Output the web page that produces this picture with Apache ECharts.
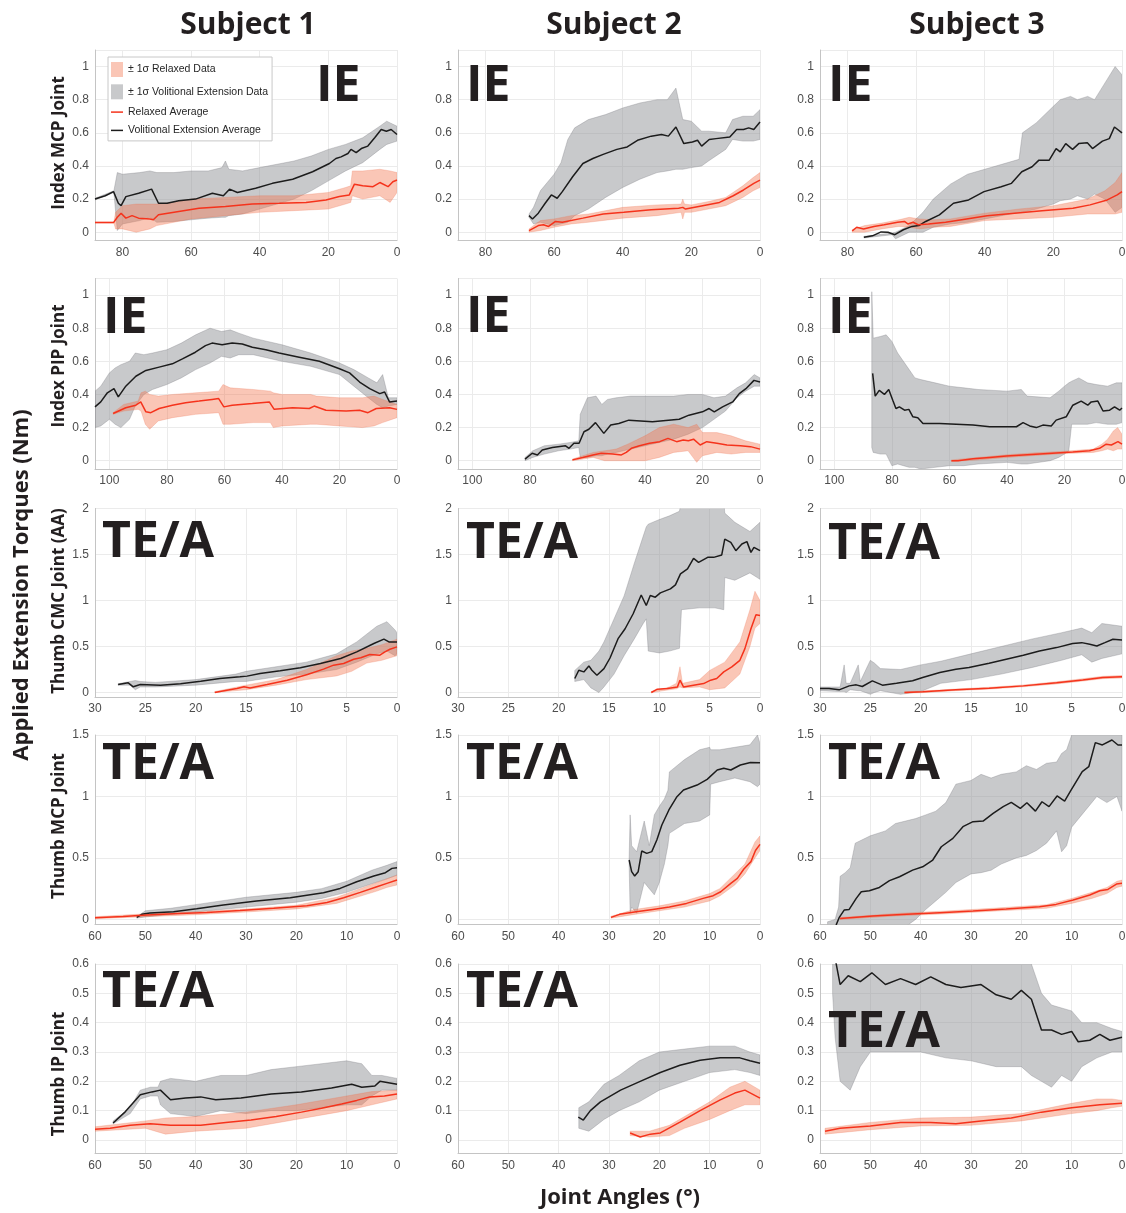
<!DOCTYPE html>
<html>
<head>
<meta charset="utf-8">
<script src="https://cdn.jsdelivr.net/npm/echarts@6/dist/echarts.min.js"></script>
<style>
html,body{margin:0;padding:0;background:#fff}
#chart{width:1126px;height:1213px}
</style>
</head>
<body>
<div id="chart"></div>
<script>
// ---------- Subject 1 · Index MCP ----------
const s1_imcp_volX = [88, 85, 82.6, 81.2, 80.4, 79, 75.3, 71.5, 69.5, 67, 63.6, 58.7, 53.8, 50.6, 48.8, 46.5, 41.2, 36.3, 30.4, 24.6, 19.7, 17.8, 16.3, 14.3, 13.4, 11.9, 10.4, 8.5, 6.5, 4.6, 3.1, 1.7, 0];
const s1_imcp_volY = [0.20, 0.22, 0.245, 0.175, 0.16, 0.215, 0.235, 0.26, 0.175, 0.175, 0.19, 0.20, 0.235, 0.22, 0.26, 0.24, 0.265, 0.295, 0.32, 0.365, 0.415, 0.445, 0.455, 0.475, 0.50, 0.48, 0.505, 0.52, 0.57, 0.62, 0.61, 0.62, 0.59];
const s1_imcp_volBandX = [88, 82.5, 81.5, 80, 75, 72, 70, 65, 60, 55, 51, 50, 49, 45, 40, 35, 30, 25, 20, 15, 10, 5, 3, 0];
const s1_imcp_volLo = [0.195, 0.24, 0.01, 0.05, 0.07, 0.09, 0.06, 0.065, 0.075, 0.085, 0.09, 0.09, 0.10, 0.11, 0.14, 0.17, 0.20, 0.25, 0.31, 0.37, 0.42, 0.50, 0.53, 0.55];
const s1_imcp_volHi = [0.205, 0.25, 0.36, 0.35, 0.36, 0.37, 0.36, 0.36, 0.37, 0.37, 0.39, 0.43, 0.38, 0.37, 0.39, 0.41, 0.43, 0.46, 0.50, 0.53, 0.57, 0.64, 0.67, 0.64];
const s1_imcp_relX = [88, 82.6, 81.5, 80.4, 79, 77.2, 75.3, 72, 71, 69.5, 63.6, 57.7, 50, 42.2, 34.3, 26.5, 20.7, 16.8, 13.9, 12.4, 10, 7, 5, 2.6, 1.2, 0];
const s1_imcp_relY = [0.058, 0.058, 0.09, 0.115, 0.085, 0.1, 0.085, 0.08, 0.075, 0.105, 0.125, 0.145, 0.155, 0.17, 0.175, 0.18, 0.195, 0.215, 0.225, 0.29, 0.28, 0.275, 0.30, 0.275, 0.305, 0.315];
const s1_imcp_relBandX = [88, 82.5, 82, 80, 76, 72, 70, 65, 60, 50, 40, 30, 20, 15, 13.5, 13, 10, 5, 2, 0];
const s1_imcp_relLo = [0.055, 0.055, 0.02, 0.02, 0.0, 0.02, 0.04, 0.06, 0.08, 0.10, 0.12, 0.13, 0.14, 0.17, 0.18, 0.22, 0.20, 0.22, 0.18, 0.24];
const s1_imcp_relHi = [0.062, 0.062, 0.12, 0.16, 0.17, 0.17, 0.17, 0.18, 0.20, 0.21, 0.22, 0.22, 0.24, 0.27, 0.28, 0.37, 0.37, 0.38, 0.37, 0.36];

// ---------- Subject 2 · Index MCP ----------
const s2_imcp_volX = [67.3, 66.3, 64.6, 62.6, 60.8, 59.1, 57.6, 54.6, 51.6, 48.7, 45.7, 41.7, 38.7, 35.7, 31.7, 28.7, 26.7, 24.5, 22.2, 19.7, 18.2, 17, 14.8, 12.8, 8.8, 6.8, 4.8, 3.3, 1.8, 0];
const s2_imcp_volY = [0.10, 0.08, 0.115, 0.175, 0.225, 0.205, 0.245, 0.335, 0.415, 0.445, 0.47, 0.50, 0.515, 0.555, 0.58, 0.59, 0.58, 0.635, 0.535, 0.545, 0.555, 0.52, 0.56, 0.565, 0.575, 0.62, 0.62, 0.63, 0.62, 0.665];
const s2_imcp_volBandX = [67.3, 66, 64, 62, 60, 58, 56, 54, 50, 45, 40, 35, 30, 27, 24.5, 22.5, 20, 17, 15, 10, 8, 5, 2, 0];
const s2_imcp_volLo = [0.09, 0.05, 0.06, 0.05, 0.04, 0.05, 0.06, 0.10, 0.14, 0.21, 0.27, 0.32, 0.36, 0.37, 0.38, 0.38, 0.39, 0.40, 0.43, 0.50, 0.56, 0.55, 0.55, 0.56];
const s2_imcp_volHi = [0.11, 0.15, 0.25, 0.30, 0.35, 0.42, 0.56, 0.63, 0.68, 0.71, 0.75, 0.78, 0.80, 0.80, 0.87, 0.68, 0.67, 0.61, 0.61, 0.60, 0.68, 0.70, 0.70, 0.74];
const s2_imcp_relX = [67.3, 64.6, 63.1, 61.6, 59.6, 57.6, 51.6, 45.7, 39.7, 31.7, 23.7, 22.5, 21.7, 16.7, 11.8, 7.8, 4.8, 1.8, 0];
const s2_imcp_relY = [0.01, 0.04, 0.045, 0.035, 0.065, 0.06, 0.085, 0.11, 0.12, 0.135, 0.145, 0.15, 0.14, 0.16, 0.18, 0.22, 0.255, 0.295, 0.315];
const s2_imcp_relBandX = [67.3, 64, 60, 55, 50, 40, 30, 23, 22.5, 22, 20, 15, 10, 5, 2, 0];
const s2_imcp_relLo = [0.0, 0.01, 0.03, 0.05, 0.06, 0.085, 0.10, 0.12, 0.08, 0.12, 0.12, 0.14, 0.16, 0.21, 0.25, 0.27];
const s2_imcp_relHi = [0.02, 0.07, 0.08, 0.10, 0.11, 0.15, 0.165, 0.17, 0.20, 0.17, 0.165, 0.185, 0.21, 0.28, 0.33, 0.36];

// ---------- Subject 3 · Index MCP ----------
const s3_imcp_volX = [75.2, 72.7, 70.2, 68.2, 66.2, 63.7, 61.2, 59.2, 57.2, 53.2, 49.1, 44.7, 40.2, 35.2, 32.2, 29.2, 26.2, 24.2, 21.2, 19.2, 18, 16.4, 14.4, 12.6, 10.1, 8.6, 5.7, 3.7, 2.2, 0];
const s3_imcp_volY = [-0.03, -0.022, 0.002, 0.0, -0.015, 0.015, 0.035, 0.04, 0.065, 0.105, 0.175, 0.195, 0.245, 0.275, 0.295, 0.365, 0.395, 0.435, 0.435, 0.505, 0.485, 0.535, 0.50, 0.535, 0.54, 0.505, 0.55, 0.565, 0.635, 0.60];
const s3_imcp_volBandX = [75.2, 67, 66, 62, 58, 55, 50, 45, 40, 35, 30, 29, 25, 20, 18, 15, 13, 10, 8, 5, 2, 0];
const s3_imcp_volLo = [-0.035, -0.015, -0.04, 0.0, 0.0, 0.03, 0.05, 0.06, 0.08, 0.10, 0.12, 0.12, 0.14, 0.17, 0.19, 0.20, 0.22, 0.20, 0.23, 0.20, 0.12, 0.15];
const s3_imcp_volHi = [-0.025, -0.005, 0.0, 0.04, 0.12, 0.20, 0.29, 0.35, 0.38, 0.41, 0.44, 0.60, 0.66, 0.76, 0.80, 0.82, 0.80, 0.82, 0.80, 0.90, 1.0, 0.95];
const s3_imcp_relX = [78.6, 77.3, 75.3, 72.3, 69.3, 65.4, 63.4, 62.4, 60.9, 59.4, 56.4, 51.4, 45.3, 39.3, 31.3, 23.3, 14.3, 9.3, 4.3, 1.4, 0];
const s3_imcp_relY = [0.008, 0.03, 0.02, 0.035, 0.045, 0.06, 0.065, 0.05, 0.06, 0.045, 0.05, 0.06, 0.08, 0.10, 0.115, 0.13, 0.145, 0.165, 0.195, 0.225, 0.245];
const s3_imcp_relBandX = [78.6, 75, 70, 65, 62, 59, 55, 50, 40, 30, 20, 10, 5, 2, 0];
const s3_imcp_relLo = [0.0, 0.0, 0.02, 0.035, 0.03, 0.02, 0.03, 0.035, 0.07, 0.08, 0.09, 0.11, 0.11, 0.11, 0.12];
const s3_imcp_relHi = [0.015, 0.04, 0.055, 0.075, 0.09, 0.08, 0.075, 0.08, 0.115, 0.14, 0.16, 0.2, 0.25, 0.3, 0.36];

// ---------- Subject 1 · Index PIP ----------
const s1_ipip_volX = [105, 103, 100.7, 98.4, 96.9, 94.3, 90.8, 87.3, 82.7, 78.1, 74.6, 70.1, 66.6, 64.3, 60.8, 57.3, 53.8, 50.3, 45.6, 41, 34, 27, 20, 16.5, 13, 9.5, 6, 4.3, 2.6, 0];
const s1_ipip_volY = [0.325, 0.355, 0.41, 0.435, 0.385, 0.45, 0.51, 0.545, 0.565, 0.585, 0.615, 0.655, 0.695, 0.71, 0.70, 0.71, 0.705, 0.685, 0.67, 0.65, 0.625, 0.60, 0.555, 0.53, 0.475, 0.435, 0.405, 0.415, 0.355, 0.36];
const s1_ipip_volBandX = [105, 103, 100, 98, 96, 93, 91, 88, 85, 80, 75, 70, 65, 61, 58, 55, 50, 45, 40, 30, 20, 15, 10, 7, 5, 3, 0];
const s1_ipip_volLo = [0.20, 0.21, 0.25, 0.22, 0.20, 0.25, 0.33, 0.40, 0.43, 0.46, 0.50, 0.55, 0.59, 0.63, 0.62, 0.64, 0.64, 0.62, 0.60, 0.57, 0.52, 0.45, 0.38, 0.34, 0.32, 0.33, 0.34];
const s1_ipip_volHi = [0.42, 0.45, 0.53, 0.56, 0.58, 0.60, 0.65, 0.64, 0.65, 0.67, 0.71, 0.76, 0.80, 0.78, 0.79, 0.77, 0.74, 0.72, 0.70, 0.65, 0.59, 0.55, 0.50, 0.47, 0.52, 0.38, 0.38];
const s1_ipip_relX = [98.7, 94.3, 90.8, 89.1, 87.3, 85.6, 82.7, 78.1, 73.5, 68.8, 64.3, 62, 60.2, 57.3, 50.3, 44.4, 42.7, 36.3, 30.5, 28.8, 24.7, 17.7, 13, 10.1, 7.2, 2.6, 0];
const s1_ipip_relY = [0.285, 0.32, 0.335, 0.355, 0.295, 0.29, 0.315, 0.335, 0.35, 0.36, 0.37, 0.375, 0.325, 0.335, 0.345, 0.355, 0.31, 0.32, 0.315, 0.33, 0.305, 0.30, 0.305, 0.29, 0.315, 0.32, 0.31];
const s1_ipip_relBandX = [98.7, 95, 90, 89, 87.5, 86, 83, 78, 70, 62, 60.5, 58, 50, 44, 43, 40, 30, 28, 20, 12, 8, 5, 0];
const s1_ipip_relLo = [0.28, 0.30, 0.31, 0.30, 0.22, 0.19, 0.24, 0.26, 0.28, 0.29, 0.22, 0.22, 0.23, 0.23, 0.20, 0.21, 0.22, 0.22, 0.21, 0.20, 0.21, 0.23, 0.26];
const s1_ipip_relHi = [0.29, 0.34, 0.36, 0.41, 0.42, 0.40, 0.39, 0.40, 0.41, 0.42, 0.46, 0.44, 0.43, 0.42, 0.41, 0.40, 0.40, 0.39, 0.38, 0.38, 0.39, 0.37, 0.34];

// ---------- Subject 2 · Index PIP ----------
const s2_ipip_volX = [81.7, 79.2, 77.4, 75.7, 72.2, 67.6, 66.4, 64.7, 62.9, 61.2, 59.5, 57.2, 54.3, 51.9, 49.1, 45.6, 37.4, 28.1, 24.7, 20, 17.7, 15.9, 13, 9.5, 7.2, 4.9, 2.1, 0];
const s2_ipip_volY = [0.01, 0.045, 0.035, 0.065, 0.08, 0.09, 0.075, 0.105, 0.105, 0.175, 0.19, 0.23, 0.165, 0.215, 0.225, 0.245, 0.235, 0.25, 0.275, 0.295, 0.315, 0.295, 0.325, 0.355, 0.405, 0.435, 0.485, 0.475];
const s2_ipip_volBandX = [81.7, 79, 75, 70, 66, 63, 62.5, 60, 57, 55, 53, 50, 45, 40, 30, 25, 20, 16, 12, 8, 5, 2, 0];
const s2_ipip_volLo = [0.0, 0.02, 0.04, 0.06, 0.07, 0.08, 0.02, 0.02, 0.03, 0.03, 0.04, 0.05, 0.07, 0.09, 0.13, 0.16, 0.20, 0.25, 0.30, 0.38, 0.42, 0.45, 0.45];
const s2_ipip_volHi = [0.02, 0.06, 0.09, 0.10, 0.11, 0.12, 0.28, 0.38, 0.39, 0.34, 0.37, 0.38, 0.39, 0.39, 0.39, 0.40, 0.40, 0.38, 0.39, 0.44, 0.47, 0.52, 0.50];
const s2_ipip_relX = [65.2, 61.6, 58.1, 55.2, 51.2, 48.2, 46.5, 44.7, 41.9, 38.4, 34.9, 32, 29, 26.7, 24.9, 23.1, 20.8, 18.5, 15, 11.5, 6.8, 3.3, 0];
const s2_ipip_relY = [0.005, 0.02, 0.035, 0.045, 0.04, 0.035, 0.05, 0.075, 0.09, 0.105, 0.115, 0.135, 0.115, 0.125, 0.12, 0.13, 0.095, 0.115, 0.105, 0.095, 0.09, 0.085, 0.07];
const s2_ipip_relBandX = [65.2, 58, 54, 50, 46, 40, 35, 30, 25, 22, 20, 15, 10, 5, 0];
const s2_ipip_relLo = [0.0, 0.02, 0.0, 0.0, 0.0, 0.0, 0.02, 0.05, 0.06, -0.01, 0.03, 0.05, 0.04, 0.05, 0.05];
const s2_ipip_relHi = [0.01, 0.05, 0.06, 0.07, 0.10, 0.15, 0.20, 0.22, 0.20, 0.22, 0.17, 0.17, 0.15, 0.12, 0.10];

// ---------- Subject 3 · Index PIP ----------
const s3_ipip_volX = [86.7, 85.8, 84.4, 82.6, 81.1, 79.7, 78.6, 77.4, 75.6, 74.1, 72.7, 71, 69.2, 63.4, 57.6, 51.8, 46, 36.7, 34.4, 32.1, 29.8, 27.5, 24.6, 22.9, 19.4, 17.1, 14.2, 11.9, 10.7, 8.4, 6.6, 4.3, 2.6, 0.8, 0];
const s3_ipip_volY = [0.527, 0.39, 0.425, 0.40, 0.43, 0.365, 0.315, 0.325, 0.305, 0.31, 0.265, 0.26, 0.225, 0.225, 0.22, 0.215, 0.205, 0.205, 0.23, 0.21, 0.20, 0.215, 0.21, 0.245, 0.265, 0.335, 0.36, 0.335, 0.355, 0.36, 0.30, 0.305, 0.325, 0.305, 0.318];
const s3_ipip_volBandX = [87, 86.5, 84, 82, 80, 78, 76, 74, 72, 70, 65, 60, 55, 50, 40, 35, 33, 25, 22, 20, 18.5, 17.5, 15, 12, 9, 5, 2, 0];
const s3_ipip_volLo = [0.08, 0.05, 0.04, 0.04, -0.03, -0.02, -0.03, -0.04, -0.04, -0.05, -0.04, -0.03, -0.03, -0.02, -0.01, -0.02, -0.02, 0.0, 0.02, 0.04, 0.06, 0.22, 0.22, 0.22, 0.23, 0.22, 0.22, 0.23];
const s3_ipip_volHi = [1.02, 0.74, 0.75, 0.76, 0.72, 0.65, 0.60, 0.55, 0.50, 0.49, 0.47, 0.45, 0.44, 0.43, 0.42, 0.43, 0.39, 0.38, 0.42, 0.45, 0.47, 0.48, 0.50, 0.47, 0.46, 0.45, 0.47, 0.47];
const s3_ipip_relX = [59.3, 57, 51.8, 46, 40.2, 34.4, 28.6, 22.9, 17.1, 11.3, 7.8, 5.5, 3.7, 1.4, 0];
const s3_ipip_relY = [0.0, 0.0, 0.012, 0.02, 0.028, 0.034, 0.04, 0.046, 0.052, 0.06, 0.075, 0.10, 0.095, 0.115, 0.10];
const s3_ipip_relBandX = [59.3, 50, 40, 30, 20, 10, 7, 5, 3, 1.5, 0];
const s3_ipip_relLo = [-0.005, 0.005, 0.02, 0.032, 0.043, 0.05, 0.06, 0.07, 0.06, 0.07, 0.07];
const s3_ipip_relHi = [0.005, 0.02, 0.036, 0.048, 0.057, 0.07, 0.1, 0.13, 0.18, 0.2, 0.16];

// ---------- Subject 1 · Thumb CMC ----------
const s1_tcmc_volX = [27.7, 26.7, 26.2, 25.5, 23.5, 21.5, 19.5, 17.6, 15.6, 14.9, 13.6, 11.6, 9.6, 7.6, 5.6, 4, 2.3, 1.3, 0.8, 0];
const s1_tcmc_volY = [0.087, 0.105, 0.062, 0.087, 0.08, 0.094, 0.123, 0.152, 0.17, 0.178, 0.207, 0.236, 0.268, 0.315, 0.37, 0.442, 0.533, 0.58, 0.55, 0.55];
const s1_tcmc_volBandX = [27.7, 26.5, 26, 25.5, 24, 20, 16, 15, 12, 9, 6, 4, 2, 1, 0.2, 0];
const s1_tcmc_volLo = [0.08, 0.08, 0.03, 0.06, 0.06, 0.08, 0.12, 0.12, 0.17, 0.2, 0.25, 0.33, 0.42, 0.45, 0.4, 0.42];
const s1_tcmc_volHi = [0.095, 0.12, 0.13, 0.12, 0.11, 0.14, 0.2, 0.23, 0.28, 0.33, 0.42, 0.55, 0.72, 0.77, 0.68, 0.65];
const s1_tcmc_relX = [18.1, 16.9, 15.9, 15.2, 14.6, 12.9, 10.9, 8.9, 7.3, 6.3, 5.3, 4.3, 3.6, 2.7, 1.7, 1.2, 0.7, 0];
const s1_tcmc_relY = [0.0, 0.025, 0.043, 0.062, 0.05, 0.087, 0.134, 0.196, 0.254, 0.297, 0.315, 0.362, 0.377, 0.413, 0.406, 0.442, 0.47, 0.496];
const s1_tcmc_relBandX = [18.1, 15, 12, 9, 6, 4.5, 3, 1.5, 0];
const s1_tcmc_relLo = [0.0, 0.03, 0.08, 0.14, 0.18, 0.23, 0.32, 0.35, 0.40];
const s1_tcmc_relHi = [0.01, 0.08, 0.14, 0.25, 0.40, 0.45, 0.48, 0.52, 0.58];

// ---------- Subject 2 · Thumb CMC ----------
const s2_tcmc_volX = [18.4, 18.0, 17.5, 17, 16.7, 16.2, 15.5, 14.9, 14.1, 13.4, 12.6, 11.8, 11.3, 10.9, 10.4, 9.9, 8.9, 8.4, 7.9, 7.2, 6.6, 6.1, 5.2, 4.6, 3.8, 3.5, 2.9, 2.4, 1.8, 1.3, 0.9, 0.6, 0];
const s2_tcmc_volY = [0.152, 0.242, 0.224, 0.289, 0.242, 0.188, 0.26, 0.375, 0.585, 0.693, 0.856, 1.06, 0.946, 1.054, 1.036, 1.083, 1.126, 1.17, 1.289, 1.343, 1.458, 1.415, 1.469, 1.469, 1.495, 1.668, 1.632, 1.542, 1.614, 1.64, 1.523, 1.578, 1.542];
const s2_tcmc_volBandX = [18.4, 17.5, 16.8, 16, 15.5, 14.5, 13.5, 12.5, 11.6, 11.3, 11.1, 10, 9, 8, 7.8, 6, 4.5, 3.6, 3.5, 2.5, 1, 0];
const s2_tcmc_volLo = [0.12, 0.14, 0.05, 0.0, 0.06, 0.2, 0.4, 0.58, 0.75, 0.8, 0.45, 0.43, 0.45, 0.48, 0.9, 0.92, 0.92, 0.9, 1.25, 1.22, 1.3, 1.23];
const s2_tcmc_volHi = [0.24, 0.33, 0.35, 0.45, 0.55, 0.80, 1.05, 1.40, 1.70, 1.80, 1.83, 1.88, 1.92, 1.97, 2.1, 2.1, 2.1, 2.1, 1.95, 1.85, 1.75, 1.85];
const s2_tcmc_relX = [10.8, 10.2, 9.2, 8.2, 7.95, 7.6, 6.6, 5.6, 4.9, 4.3, 3.6, 2.8, 2, 1.5, 0.9, 0.4, 0];
const s2_tcmc_relY = [0.0, 0.036, 0.043, 0.061, 0.134, 0.061, 0.08, 0.097, 0.134, 0.152, 0.224, 0.278, 0.35, 0.477, 0.693, 0.845, 0.838];
const s2_tcmc_relBandX = [10.8, 9, 8.3, 7.95, 7.7, 6, 5, 3.5, 2, 1, 0.5, 0];
const s2_tcmc_relLo = [0.0, 0.03, 0.04, 0.06, 0.05, 0.06, 0.03, 0.05, 0.2, 0.5, 0.7, 0.75];
const s2_tcmc_relHi = [0.01, 0.06, 0.10, 0.28, 0.10, 0.14, 0.24, 0.33, 0.55, 0.90, 1.10, 1.0];

// ---------- Subject 3 · Thumb CMC ----------
const s3_tcmc_volX = [30, 29.1, 28.1, 27.1, 26.4, 25.8, 24.8, 23.8, 22.4, 20.8, 19.8, 18.1, 16.5, 15.2, 13.2, 11.5, 9.8, 8.2, 6.5, 4.9, 4, 3.2, 2.5, 1.7, 0.9, 0];
const s3_tcmc_volY = [0.043, 0.043, 0.029, 0.072, 0.083, 0.065, 0.127, 0.08, 0.101, 0.127, 0.163, 0.217, 0.253, 0.271, 0.318, 0.362, 0.405, 0.452, 0.488, 0.532, 0.542, 0.524, 0.506, 0.542, 0.579, 0.571];
const s3_tcmc_volBandX = [30, 28, 27.6, 27.4, 27, 26.2, 26, 25, 24.6, 24, 22, 20, 18, 15, 12, 9, 6, 4, 3, 2, 0];
const s3_tcmc_volLo = [0.02, 0.01, 0.01, 0.0, 0.03, 0.02, 0.02, -0.02, 0.0, 0.02, -0.02, 0.01, 0.1, 0.14, 0.2, 0.27, 0.35, 0.41, 0.33, 0.37, 0.42];
const s3_tcmc_volHi = [0.06, 0.06, 0.3, 0.1, 0.1, 0.3, 0.12, 0.35, 0.32, 0.26, 0.25, 0.3, 0.34, 0.42, 0.5, 0.58, 0.65, 0.7, 0.65, 0.75, 0.72];
const s3_tcmc_relX = [21.6, 19.8, 16.5, 13.2, 9.8, 6.5, 3.9, 1.9, 0];
const s3_tcmc_relY = [0.0, 0.007, 0.029, 0.047, 0.072, 0.105, 0.137, 0.163, 0.17];
const s3_tcmc_relBandX = [21.6, 19.8, 16.5, 13.2, 9.8, 6.5, 3.9, 1.9, 0];
const s3_tcmc_relLo = [-0.008, -0.002, 0.02, 0.037, 0.062, 0.093, 0.124, 0.15, 0.158];
const s3_tcmc_relHi = [0.008, 0.016, 0.038, 0.057, 0.082, 0.117, 0.15, 0.176, 0.184];

// ---------- Subject 1 · Thumb MCP ----------
const s1_tmcp_volX = [51.7, 50.7, 49.1, 44.4, 39.8, 34.5, 27.9, 21.2, 14.6, 11.3, 8, 4.6, 2.3, 1, 0];
const s1_tmcp_volY = [0.016, 0.041, 0.052, 0.062, 0.087, 0.117, 0.149, 0.176, 0.217, 0.252, 0.306, 0.353, 0.38, 0.415, 0.42];
const s1_tmcp_volBandX = [51.7, 50, 45, 40, 30, 20, 15, 10, 5, 2, 0];
const s1_tmcp_volLo = [0.01, 0.02, 0.04, 0.06, 0.10, 0.14, 0.17, 0.22, 0.29, 0.33, 0.36];
const s1_tmcp_volHi = [0.02, 0.07, 0.09, 0.12, 0.18, 0.22, 0.25, 0.31, 0.40, 0.44, 0.47];
const s1_tmcp_relX = [60, 54.4, 49.7, 44.4, 37.8, 31.2, 24.5, 17.9, 13.9, 10.6, 7.3, 4, 2, 0];
const s1_tmcp_relY = [0.014, 0.024, 0.035, 0.046, 0.057, 0.073, 0.09, 0.111, 0.138, 0.176, 0.22, 0.266, 0.293, 0.32];
const s1_tmcp_relBandX = [60, 50, 40, 30, 20, 12, 8, 4, 2, 0];
const s1_tmcp_relLo = [0.005, 0.022, 0.038, 0.06, 0.085, 0.13, 0.18, 0.23, 0.26, 0.28];
const s1_tmcp_relHi = [0.022, 0.045, 0.062, 0.085, 0.115, 0.18, 0.24, 0.3, 0.33, 0.36];

// ---------- Subject 2 · Thumb MCP ----------
const s2_tmcp_volX = [26, 25.5, 24.9, 24.2, 23.5, 22.5, 21.5, 20.5, 19.5, 18.1, 16.5, 15.2, 12.5, 10.5, 8.5, 7.2, 5.8, 3.9, 1.9, 0];
const s2_tmcp_volY = [0.483, 0.388, 0.353, 0.388, 0.556, 0.537, 0.551, 0.646, 0.768, 0.89, 0.998, 1.052, 1.093, 1.139, 1.215, 1.229, 1.215, 1.256, 1.277, 1.275];
const s2_tmcp_volBandX = [26, 25.8, 25.5, 24.5, 23, 22, 21, 20, 19, 18.3, 18, 15, 12, 10, 9.8, 8, 5, 2, 0.5, 0];
const s2_tmcp_volLo = [0.45, 0.05, 0.1, 0.05, 0.3, 0.25, 0.2, 0.3, 0.45, 0.6, 0.7, 0.78, 0.8, 0.85, 1.1, 1.12, 1.15, 1.12, 1.08, 1.1];
const s2_tmcp_volHi = [0.5, 0.85, 0.6, 0.55, 0.8, 0.6, 0.85, 0.92, 0.98, 1.05, 1.2, 1.3, 1.38, 1.4, 1.38, 1.38, 1.4, 1.42, 1.5, 1.43];
const s2_tmcp_relX = [29.6, 27.9, 24.6, 21.3, 18, 14.6, 11.3, 9.3, 7.8, 5.8, 4.5, 3.2, 1.8, 0.9, 0];
const s2_tmcp_relY = [0.016, 0.041, 0.062, 0.081, 0.1, 0.13, 0.171, 0.193, 0.225, 0.293, 0.334, 0.41, 0.47, 0.56, 0.61];
const s2_tmcp_relBandX = [29.6, 25, 20, 15, 10, 8, 5, 3, 1, 0];
const s2_tmcp_relLo = [0.01, 0.04, 0.07, 0.1, 0.15, 0.19, 0.28, 0.37, 0.5, 0.56];
const s2_tmcp_relHi = [0.025, 0.08, 0.11, 0.15, 0.21, 0.25, 0.37, 0.45, 0.63, 0.68];

// ---------- Subject 3 · Thumb MCP ----------
const s3_tmcp_volX = [56.8, 56.2, 55.2, 54.2, 52.8, 51.8, 50.2, 48.2, 46.2, 44.2, 41.6, 39.6, 37.6, 35.9, 33.6, 31.6, 29.6, 27.6, 25.6, 23.6, 22, 20.2, 18.9, 17.2, 15.9, 14.5, 12.9, 11.4, 10.3, 7.9, 6.6, 5.3, 3.9, 2, 0.8, 0];
const s3_tmcp_volY = [-0.046, 0.014, 0.076, 0.081, 0.171, 0.225, 0.233, 0.26, 0.315, 0.347, 0.401, 0.428, 0.483, 0.591, 0.659, 0.754, 0.795, 0.80, 0.862, 0.917, 0.952, 0.903, 0.949, 0.881, 0.957, 0.917, 1.004, 0.963, 1.039, 1.202, 1.242, 1.438, 1.419, 1.459, 1.419, 1.419];
const s3_tmcp_volBandX = [58.5, 57, 56.3, 56, 55, 54, 53, 51, 50, 47, 45, 43, 41, 39, 37, 35, 33, 30, 28, 26, 24, 21, 19, 17, 15, 13, 12, 11, 10, 8, 5, 3, 1, 0];
const s3_tmcp_volLo = [-0.1, -0.1, -0.1, -0.1, -0.1, -0.1, -0.1, -0.1, -0.1, -0.1, -0.1, -0.06, 0.0, 0.08, 0.15, 0.22, 0.30, 0.37, 0.38, 0.40, 0.45, 0.50, 0.52, 0.56, 0.62, 0.72, 0.55, 0.60, 0.75, 0.85, 1.0, 0.95, 1.0, 0.88];
const s3_tmcp_volHi = [-0.02, 0.0, 0.1, 0.35, 0.38, 0.42, 0.62, 0.66, 0.68, 0.72, 0.78, 0.80, 0.82, 0.85, 0.88, 0.95, 1.10, 1.13, 1.18, 1.15, 1.18, 1.20, 1.25, 1.22, 1.27, 1.28, 1.35, 1.38, 1.5, 1.6, 1.7, 1.7, 1.7, 1.7];
const s3_tmcp_relX = [56, 49.5, 42.8, 36.2, 29.6, 23, 16.4, 13.1, 9.7, 6.4, 4.4, 2.8, 1.1, 0];
const s3_tmcp_relY = [0.008, 0.027, 0.041, 0.054, 0.068, 0.084, 0.103, 0.122, 0.157, 0.198, 0.233, 0.244, 0.287, 0.293];
const s3_tmcp_relBandX = [56, 45, 35, 25, 15, 10, 6, 3, 1, 0];
const s3_tmcp_relLo = [0.0, 0.028, 0.045, 0.068, 0.09, 0.13, 0.17, 0.21, 0.26, 0.27];
const s3_tmcp_relHi = [0.015, 0.048, 0.068, 0.092, 0.12, 0.17, 0.22, 0.26, 0.31, 0.32];

// ---------- Subject 1 · Thumb IP ----------
const s1_tip_volX = [56.4, 54, 51, 48.7, 47, 45, 42, 39, 36, 31, 25, 19, 13, 9, 7, 4.4, 3.4, 0];
const s1_tip_volY = [0.058, 0.096, 0.154, 0.164, 0.17, 0.137, 0.143, 0.147, 0.137, 0.143, 0.157, 0.164, 0.177, 0.19, 0.18, 0.184, 0.2, 0.19];
const s1_tip_volBandX = [56.4, 53, 51, 49, 47.5, 47, 45, 40, 35, 30, 25, 20, 15, 10, 7, 5, 3, 0];
const s1_tip_volLo = [0.055, 0.09, 0.14, 0.15, 0.15, 0.12, 0.09, 0.08, 0.10, 0.09, 0.10, 0.10, 0.11, 0.12, 0.12, 0.15, 0.17, 0.17];
const s1_tip_volHi = [0.065, 0.11, 0.17, 0.18, 0.18, 0.20, 0.21, 0.20, 0.22, 0.22, 0.24, 0.25, 0.26, 0.27, 0.26, 0.22, 0.22, 0.21];
const s1_tip_relX = [60, 57, 53, 49, 45, 39, 34, 29, 24, 19, 15, 11, 8, 5.4, 2.5, 0];
const s1_tip_relY = [0.037, 0.04, 0.05, 0.055, 0.05, 0.05, 0.06, 0.068, 0.08, 0.095, 0.108, 0.123, 0.135, 0.147, 0.15, 0.157];
const s1_tip_relBandX = [60, 50, 46, 40, 30, 20, 10, 5, 0];
const s1_tip_relLo = [0.03, 0.04, 0.02, 0.03, 0.04, 0.07, 0.10, 0.12, 0.14];
const s1_tip_relHi = [0.045, 0.065, 0.075, 0.08, 0.095, 0.12, 0.15, 0.165, 0.17];

// ---------- Subject 2 · Thumb IP ----------
const s2_tip_volX = [36.1, 35.1, 33.7, 31.7, 27.7, 23.8, 19.8, 15.9, 11.9, 7.9, 4, 2, 0];
const s2_tip_volY = [0.078, 0.068, 0.1, 0.13, 0.17, 0.2, 0.23, 0.255, 0.272, 0.28, 0.28, 0.27, 0.262];
const s2_tip_volBandX = [36, 34, 31, 28, 24, 20, 15, 10, 5, 2, 0];
const s2_tip_volLo = [0.04, 0.03, 0.07, 0.10, 0.13, 0.17, 0.20, 0.23, 0.24, 0.23, 0.22];
const s2_tip_volHi = [0.11, 0.13, 0.19, 0.22, 0.27, 0.30, 0.31, 0.32, 0.32, 0.30, 0.29];
const s2_tip_relX = [25.8, 23.8, 21.8, 19.8, 15.9, 11.9, 7.9, 5, 3, 0];
const s2_tip_relY = [0.024, 0.01, 0.02, 0.024, 0.061, 0.10, 0.137, 0.16, 0.17, 0.143];
const s2_tip_relBandX = [25.8, 22, 18, 15, 10, 6, 3, 0];
const s2_tip_relLo = [0.015, 0.01, 0.015, 0.04, 0.07, 0.10, 0.12, 0.12];
const s2_tip_relHi = [0.03, 0.03, 0.05, 0.08, 0.13, 0.18, 0.20, 0.17];

// ---------- Subject 3 · Thumb IP ----------
const s3_tip_volX = [57, 56, 54.4, 52, 49.7, 47, 44, 41, 38, 35, 32, 28, 25, 22, 20, 18, 16, 14, 12, 10, 8.7, 6.4, 4.4, 2.4, 0];
const s3_tip_volY = [0.62, 0.53, 0.56, 0.54, 0.57, 0.53, 0.55, 0.53, 0.556, 0.53, 0.52, 0.53, 0.495, 0.48, 0.51, 0.48, 0.375, 0.375, 0.36, 0.37, 0.335, 0.34, 0.36, 0.34, 0.35];
const s3_tip_volBandX = [57.5, 57, 56, 54, 52, 50, 45, 40, 35, 30, 25, 20, 18, 16, 14, 12, 10, 8, 5, 2, 0];
const s3_tip_volLo = [0.5, 0.35, 0.2, 0.17, 0.25, 0.3, 0.3, 0.3, 0.28, 0.27, 0.25, 0.25, 0.22, 0.2, 0.18, 0.22, 0.2, 0.25, 0.28, 0.3, 0.3];
const s3_tip_volHi = [0.7, 0.7, 0.7, 0.7, 0.7, 0.7, 0.7, 0.7, 0.7, 0.7, 0.7, 0.65, 0.6, 0.5, 0.46, 0.45, 0.44, 0.4, 0.4, 0.38, 0.37];
const s3_tip_relX = [59, 56, 50, 44, 38, 33, 28, 22, 16, 10, 4.4, 0];
const s3_tip_relY = [0.03, 0.04, 0.048, 0.06, 0.06, 0.055, 0.065, 0.075, 0.095, 0.11, 0.12, 0.125];
const s3_tip_relBandX = [59, 50, 40, 30, 20, 10, 5, 2, 0];
const s3_tip_relLo = [0.02, 0.035, 0.048, 0.05, 0.065, 0.09, 0.1, 0.11, 0.115];
const s3_tip_relHi = [0.04, 0.06, 0.075, 0.078, 0.09, 0.125, 0.14, 0.14, 0.135];

// ---------- labels ----------
const subjects = ['Subject 1', 'Subject 2', 'Subject 3'];
const jointNames = ['Index MCP Joint', 'Index PIP Joint', 'Thumb CMC Joint (AA)', 'Thumb MCP Joint', 'Thumb IP Joint'];
const motionTags = ['IE', 'IE', 'TE/A', 'TE/A', 'TE/A'];
const yTitle = 'Applied Extension Torques (Nm)';
const xTitle = 'Joint Angles (°)';
const NAME_REL_BAND = '± 1σ Relaxed Data';
const NAME_VOL_BAND = '± 1σ Volitional Extension Data';
const NAME_REL_AVG = 'Relaxed Average';
const NAME_VOL_AVG = 'Volitional Extension Average';

// panels row by row, columns = subjects
const panels = [
  [s1_imcp_volX, s1_imcp_volY, s1_imcp_volBandX, s1_imcp_volLo, s1_imcp_volHi, s1_imcp_relX, s1_imcp_relY, s1_imcp_relBandX, s1_imcp_relLo, s1_imcp_relHi],
  [s2_imcp_volX, s2_imcp_volY, s2_imcp_volBandX, s2_imcp_volLo, s2_imcp_volHi, s2_imcp_relX, s2_imcp_relY, s2_imcp_relBandX, s2_imcp_relLo, s2_imcp_relHi],
  [s3_imcp_volX, s3_imcp_volY, s3_imcp_volBandX, s3_imcp_volLo, s3_imcp_volHi, s3_imcp_relX, s3_imcp_relY, s3_imcp_relBandX, s3_imcp_relLo, s3_imcp_relHi],
  [s1_ipip_volX, s1_ipip_volY, s1_ipip_volBandX, s1_ipip_volLo, s1_ipip_volHi, s1_ipip_relX, s1_ipip_relY, s1_ipip_relBandX, s1_ipip_relLo, s1_ipip_relHi],
  [s2_ipip_volX, s2_ipip_volY, s2_ipip_volBandX, s2_ipip_volLo, s2_ipip_volHi, s2_ipip_relX, s2_ipip_relY, s2_ipip_relBandX, s2_ipip_relLo, s2_ipip_relHi],
  [s3_ipip_volX, s3_ipip_volY, s3_ipip_volBandX, s3_ipip_volLo, s3_ipip_volHi, s3_ipip_relX, s3_ipip_relY, s3_ipip_relBandX, s3_ipip_relLo, s3_ipip_relHi],
  [s1_tcmc_volX, s1_tcmc_volY, s1_tcmc_volBandX, s1_tcmc_volLo, s1_tcmc_volHi, s1_tcmc_relX, s1_tcmc_relY, s1_tcmc_relBandX, s1_tcmc_relLo, s1_tcmc_relHi],
  [s2_tcmc_volX, s2_tcmc_volY, s2_tcmc_volBandX, s2_tcmc_volLo, s2_tcmc_volHi, s2_tcmc_relX, s2_tcmc_relY, s2_tcmc_relBandX, s2_tcmc_relLo, s2_tcmc_relHi],
  [s3_tcmc_volX, s3_tcmc_volY, s3_tcmc_volBandX, s3_tcmc_volLo, s3_tcmc_volHi, s3_tcmc_relX, s3_tcmc_relY, s3_tcmc_relBandX, s3_tcmc_relLo, s3_tcmc_relHi],
  [s1_tmcp_volX, s1_tmcp_volY, s1_tmcp_volBandX, s1_tmcp_volLo, s1_tmcp_volHi, s1_tmcp_relX, s1_tmcp_relY, s1_tmcp_relBandX, s1_tmcp_relLo, s1_tmcp_relHi],
  [s2_tmcp_volX, s2_tmcp_volY, s2_tmcp_volBandX, s2_tmcp_volLo, s2_tmcp_volHi, s2_tmcp_relX, s2_tmcp_relY, s2_tmcp_relBandX, s2_tmcp_relLo, s2_tmcp_relHi],
  [s3_tmcp_volX, s3_tmcp_volY, s3_tmcp_volBandX, s3_tmcp_volLo, s3_tmcp_volHi, s3_tmcp_relX, s3_tmcp_relY, s3_tmcp_relBandX, s3_tmcp_relLo, s3_tmcp_relHi],
  [s1_tip_volX, s1_tip_volY, s1_tip_volBandX, s1_tip_volLo, s1_tip_volHi, s1_tip_relX, s1_tip_relY, s1_tip_relBandX, s1_tip_relLo, s1_tip_relHi],
  [s2_tip_volX, s2_tip_volY, s2_tip_volBandX, s2_tip_volLo, s2_tip_volHi, s2_tip_relX, s2_tip_relY, s2_tip_relBandX, s2_tip_relLo, s2_tip_relHi],
  [s3_tip_volX, s3_tip_volY, s3_tip_volBandX, s3_tip_volLo, s3_tip_volHi, s3_tip_relX, s3_tip_relY, s3_tip_relBandX, s3_tip_relLo, s3_tip_relHi]
];

// ---------- axes & layout ----------
const rowXMax = [88, 105, 30, 60, 60];
const rowXStep = [20, 20, 5, 10, 10];
const rowYMin = [-0.05, -0.05, -0.05, -0.04, -0.045];
const rowYMax = [1.1, 1.1, 2, 1.5, 0.6];
const rowYStep = [0.2, 0.2, 0.5, 0.5, 0.1];
const colLeft = [95, 458, 820];
const rowTop = [50, 278.5, 508.5, 735, 964];
const rowHeight = [190.5, 190.5, 188.6, 189.3, 189.2];
const PLOT_W = 302;

const GRAY_FILL = 'rgba(150,152,156,0.52)';
const GRAY_EDGE = 'rgba(120,122,126,0.45)';
const RED_FILL = 'rgba(242,118,82,0.42)';
const RED_EDGE = 'rgba(240,110,80,0.35)';
const RED_LINE = '#f5331c';
const BLACK_LINE = '#1c1c1c';
const INK = '#231f20';
const LINE_ICON = 'path://M0,0H24V3H0Z';

const grids = [], xAxes = [], yAxes = [], series = [];

function bandSeries(name, gi, xs, lo, hi, fill, edge, z) {
  return {
    type: 'custom', name: name, xAxisIndex: gi, yAxisIndex: gi, z: z,
    clip: true, silent: true, animation: false,
    itemStyle: { color: fill },
    encode: { x: 0, y: [1, 2] },
    data: xs.map((x, i) => [x, lo[i], hi[i]]),
    renderItem: function (params, api) {
      if (params.dataIndex !== 0) return null;
      const upper = xs.map((x, i) => api.coord([x, hi[i]]));
      const lower = xs.map((x, i) => api.coord([x, lo[i]])).reverse();
      return {
        type: 'polygon',
        shape: { points: upper.concat(lower) },
        style: { fill: fill, stroke: edge, lineWidth: 0.7 }
      };
    }
  };
}

function lineSeries(name, gi, xs, ys, color, z) {
  return {
    type: 'line', name: name, xAxisIndex: gi, yAxisIndex: gi, z: z,
    data: xs.map((x, i) => [x, ys[i]]),
    symbol: 'none', showSymbol: false, clip: true, silent: true, animation: false,
    lineStyle: { color: color, width: 1.5 },
    itemStyle: { color: color }
  };
}

panels.forEach((p, gi) => {
  const row = Math.floor(gi / 3), col = gi % 3;
  grids.push({
    left: colLeft[col], top: rowTop[row], width: PLOT_W, height: rowHeight[row],
    containLabel: false, outerBoundsMode: 'none'
  });
  xAxes.push({
    type: 'value', gridIndex: gi, inverse: true,
    min: 0, max: rowXMax[row], interval: rowXStep[row],
    axisLine: { show: true, onZero: false, lineStyle: { color: '#c4c4c4', width: 1 } },
    axisTick: { show: false },
    splitLine: { show: true, lineStyle: { color: '#ebebeb', width: 1 } },
    axisLabel: {
      color: '#4d4d4d', fontSize: 12, fontFamily: 'Liberation Sans', margin: 6,
      showMinLabel: true, showMaxLabel: row >= 2
    }
  });
  yAxes.push({
    type: 'value', gridIndex: gi,
    min: rowYMin[row], max: rowYMax[row],
    splitNumber: 6, minInterval: rowYStep[row], maxInterval: rowYStep[row],
    axisLine: { show: true, onZero: false, lineStyle: { color: '#c4c4c4', width: 1 } },
    axisTick: { show: false },
    splitLine: { show: true, lineStyle: { color: '#ebebeb', width: 1 } },
    axisLabel: {
      color: '#4d4d4d', fontSize: 12, fontFamily: 'Liberation Sans', margin: 6,
      showMinLabel: false, showMaxLabel: row >= 2
    }
  });
  const [vX, vY, vbX, vLo, vHi, rX, rY, rbX, rLo, rHi] = p;
  series.push(bandSeries(NAME_VOL_BAND, gi, vbX, vLo, vHi, GRAY_FILL, GRAY_EDGE, 1));
  series.push(bandSeries(NAME_REL_BAND, gi, rbX, rLo, rHi, RED_FILL, RED_EDGE, 2));
  series.push(lineSeries(NAME_VOL_AVG, gi, vX, vY, BLACK_LINE, 3));
  series.push(lineSeries(NAME_REL_AVG, gi, rX, rY, RED_LINE, 4));
});

// ---------- text annotations ----------
const titleCenters = [248, 614, 977];
const tagPos = [
  [[316, 87], [466, 87], [828, 87]],
  [[103, 319], [466, 318], [828, 319]],
  [[102, 543], [466, 544], [828, 545]],
  [[102, 765], [466, 765], [828, 765]],
  [[102, 993], [466, 993], [828, 1033]]
];
const jointLabelY = [143, 366, 601, 826, 1074];

const graphics = [];
subjects.forEach((s, c) => {
  graphics.push({
    type: 'text', x: titleCenters[c], y: 25, z: 100, silent: true,
    style: { text: s, fill: INK, font: 'bold 30px "Open Sans"', align: 'center', verticalAlign: 'middle' }
  });
});
motionTags.forEach((t, r) => {
  for (let c = 0; c < 3; c++) {
    graphics.push({
      type: 'text', x: tagPos[r][c][0], y: tagPos[r][c][1], z: 100, silent: true,
      style: { text: t, fill: INK, font: 'bold 50px "Open Sans"', align: 'left', verticalAlign: 'middle' }
    });
  }
});
jointNames.forEach((n, r) => {
  graphics.push({
    type: 'text', x: 59.5, y: jointLabelY[r], rotation: Math.PI / 2, z: 100, silent: true,
    style: { text: n, fill: INK, font: 'bold 17px "Open Sans"', align: 'center', verticalAlign: 'middle' }
  });
});
graphics.push({
  type: 'text', x: 22, y: 585, rotation: Math.PI / 2, z: 100, silent: true,
  style: { text: yTitle, fill: INK, font: 'bold 22px "Open Sans"', align: 'center', verticalAlign: 'middle' }
});
graphics.push({
  type: 'text', x: 620, y: 1198, z: 100, silent: true,
  style: { text: xTitle, fill: INK, font: 'bold 22px "Open Sans"', align: 'center', verticalAlign: 'middle' }
});

const chart = echarts.init(document.getElementById('chart'), null, { renderer: 'canvas' });
chart.setOption({
  backgroundColor: '#ffffff',
  animation: false,
  grid: grids,
  xAxis: xAxes,
  yAxis: yAxes,
  series: series,
  legend: {
    selectedMode: false, orient: 'vertical',
    left: 108, top: 57, padding: [5, 4, 5, 3],
    itemGap: 7.3, itemWidth: 12, itemHeight: 15, symbolKeepAspect: true,
    backgroundColor: '#ffffff', borderColor: '#c8c8c8', borderWidth: 1, borderRadius: 0,
    textStyle: { fontFamily: 'Liberation Sans', fontSize: 10.5, color: '#262626' },
    data: [
      { name: NAME_REL_BAND, icon: 'rect', itemStyle: { color: RED_FILL } },
      { name: NAME_VOL_BAND, icon: 'rect', itemStyle: { color: GRAY_FILL } },
      { name: NAME_REL_AVG, icon: LINE_ICON, itemStyle: { color: RED_LINE } },
      { name: NAME_VOL_AVG, icon: LINE_ICON, itemStyle: { color: BLACK_LINE } }
    ]
  },
  graphic: graphics
});
</script>
</body>
</html>
